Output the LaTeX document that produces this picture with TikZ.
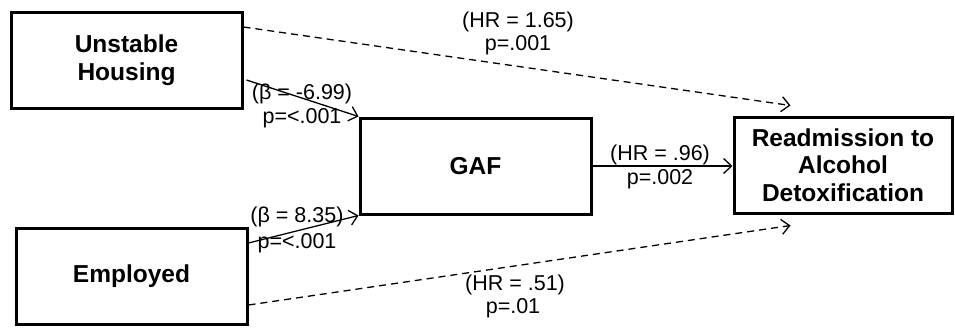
\documentclass[tikz,border=0pt]{standalone}
\usepackage{fontspec}
\setmainfont{Liberation Sans}
\usetikzlibrary{arrows.meta,calc}
\begin{document}
\begin{tikzpicture}[x=1pt,y=-1pt,
  box/.style={draw=black,line width=3pt,rectangle,minimum width=231pt,minimum height=96pt,inner sep=0pt,align=center,font=\fontsize{24.5}{27.5}\selectfont\bfseries},
  lbl/.style={inner sep=0pt,align=center,font=\fontsize{21.5}{24}\selectfont},
  conn/.style={line width=1.3pt,-{Straight Barb[length=8pt,width=15pt,line width=1.3pt]}},
  dconn/.style={conn,dash pattern=on 7pt off 5pt}]
\useasboundingbox (0,0) rectangle (955,327);
\node[box] (U) at (126.5,60) {Unstable\\Housing};
\node[box] (E) at (131.5,276) {Employed};
\node[box] (G) at (475.5,166) {GAF};
\node[box,minimum width=218pt] (R) at (843,165) {Readmission to\\Alcohol\\Detoxification};
\coordinate (ut) at ($(U.east)+(0,-33)$);
\coordinate (ub) at ($(U.east)+(3,20)$);
\coordinate (et) at ($(E.east)+(0,-33)$);
\coordinate (eb) at ($(E.east)+(0,29)$);
\coordinate (rt) at ($(R.north west)+(58,-10)$);
\coordinate (rb) at ($(R.south west)+(58,11)$);
\draw[conn] (ub) -- (G.north west);
\draw[conn] (et) -- (G.south west);
\draw[conn] (G.east) -- (G.east -| R.west);
\draw[dconn] (ut) -- (rt);
\draw[dconn] (eb) -- (rb);
\node[lbl] (l1) at (302,94) {(β = -6.99)};
\node[lbl] (l2) at (302,118) {p=<.001};
\node[lbl] (l3) at (297,217) {(β = 8.35)};
\node[lbl] (l4) at (297,243) {p=<.001};
\node[lbl] (l5) at (660,155) {(HR = .96)};
\node[lbl] (l6) at (660,179) {p=.002};
\node[lbl] (l7) at (518,22) {(HR = 1.65)};
\node[lbl] (l8) at (518,45) {p=.001};
\node[lbl] (l9) at (515,285) {(HR = .51)};
\node[lbl] (l10) at (513,308) {p=.01};
\end{tikzpicture}
\end{document}
